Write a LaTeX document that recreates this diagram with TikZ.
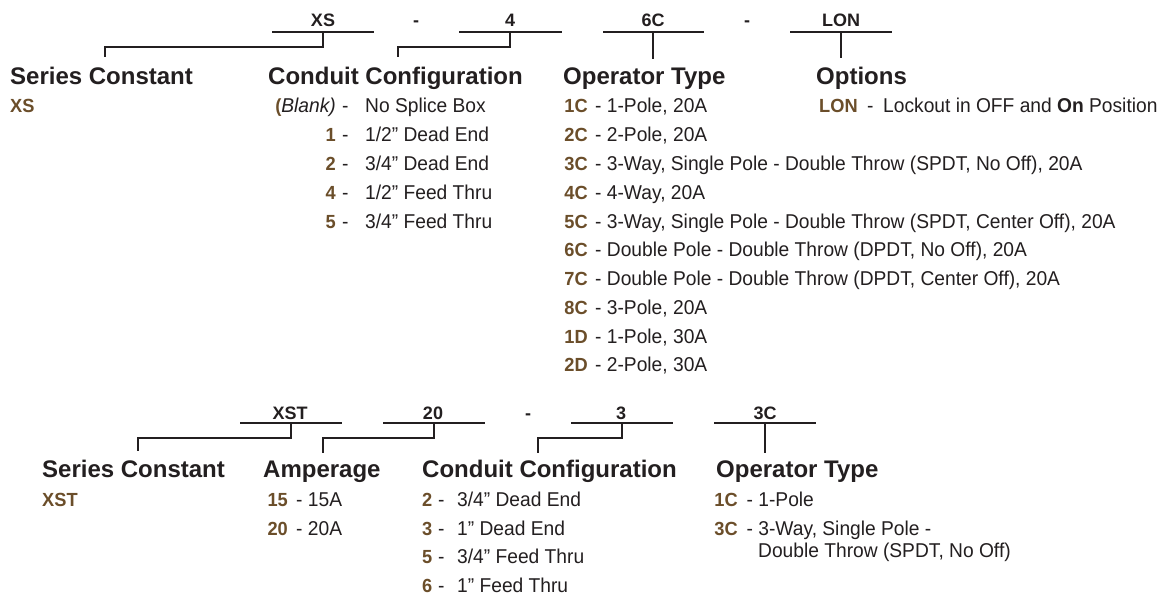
\documentclass[tikz,border=0pt]{standalone}
\usepackage{fontspec}
\setmainfont{Liberation Sans}
\newfontfamily\bodyf[FakeStretch=0.96]{Liberation Sans}
\definecolor{ink}{HTML}{231F20}
\definecolor{brn}{HTML}{6B4E2A}
\newcommand\cd[1]{{\fontsize{19}{22}\selectfont\bfseries\color{brn}#1}}
\tikzset{
  head/.style={anchor=base west, inner sep=0pt, font=\fontsize{24}{28}\selectfont\bfseries, text=ink},
  lab/.style={anchor=base, inner sep=0pt, font=\fontsize{18}{20}\selectfont\bfseries, text=ink},
  body/.style={anchor=base west, inner sep=0pt, font=\bodyf\fontsize{20}{23}\selectfont, text=ink},
  bodyr/.style={body, anchor=base east},
  conn/.style={draw=ink, line width=2.2pt, line join=miter},
}
\begin{document}
\begin{tikzpicture}[x=1pt,y=-1pt]
\fill[white] (0,0) rectangle (1164,596);
\useasboundingbox (0,0) rectangle (1164,596);

% ---------------- top code line ----------------
\node[lab] (lXS) at (323,27) {XS};
\node[lab] (lD1) at (416,27) {-};
\node[lab] (l4) at (510,27) {4};
\node[lab] (l6C) at (653,27) {6C};
\node[lab] (lD2) at (747,27) {-};
\node[lab] (lLON) at (841,27) {LON};

\coordinate (aXS) at (272,32); \coordinate (bXS) at (374,32); \coordinate (uXS) at (323,32);
\coordinate (a4) at (459,32);  \coordinate (b4) at (562,32);   \coordinate (u4) at (510,32);
\coordinate (a6C) at (603,32); \coordinate (b6C) at (704,32);  \coordinate (u6C) at (653,32);
\coordinate (aLON) at (790,32); \coordinate (bLON) at (892,32); \coordinate (uLON) at (841,32);
\draw[conn] (aXS) -- (bXS);
\draw[conn] (a4) -- (b4);
\draw[conn] (a6C) -- (b6C);
\draw[conn] (aLON) -- (bLON);

% headings
\node[head] (hSC) at (10,85) {Series Constant};
\node[head] (hCC) at (268,85) {Conduit Configuration};
\node[head] (hOT) at (563,85) {Operator Type};
\node[head] (hOP) at (816,85) {Options};

\coordinate (dSC) at (105,57);
\coordinate (dCC) at (398,57);
\coordinate (dOT) at (653,59);
\coordinate (dOP) at (841,58);
\draw[conn] (uXS) -- ++(0,15) -| (dSC);
\draw[conn] (u4) -- ++(0,15) -| (dCC);
\draw[conn] (u6C) -- (dOT);
\draw[conn] (uLON) -- (dOP);

% series constant
\node[body] (sXS) at (10,113) {\cd{XS}};

% conduit configuration
\node[bodyr] (c0) at (336,113) {\textcolor{brn}{\fontsize{19}{22}\selectfont\bfseries(}\textit{Blank)}};
\node[bodyr] (c1) at (336,141.75) {\cd{1}};
\node[bodyr] (c2) at (336,170.5) {\cd{2}};
\node[bodyr] (c4) at (336,199.25) {\cd{4}};
\node[bodyr] (c5) at (336,228) {\cd{5}};
\node[body] (cd0) at (342,113) {-};
\node[body] (cd1) at (342,141.75) {-};
\node[body] (cd2) at (342,170.5) {-};
\node[body] (cd4) at (342,199.25) {-};
\node[body] (cd5) at (342,228) {-};
\node[body] (ct0) at (365,113) {No Splice Box};
\node[body] (ct1) at (365,141.75) {1/2” Dead End};
\node[body] (ct2) at (365,170.5) {3/4” Dead End};
\node[body] (ct4) at (365,199.25) {1/2” Feed Thru};
\node[body] (ct5) at (365,228) {3/4” Feed Thru};

% operator type
\node[bodyr] (oc1) at (588,113) {\cd{1C}};
\node[bodyr] (oc2) at (588,141.75) {\cd{2C}};
\node[bodyr] (oc3) at (588,170.5) {\cd{3C}};
\node[bodyr] (oc4) at (588,199.25) {\cd{4C}};
\node[bodyr] (oc5) at (588,228) {\cd{5C}};
\node[bodyr] (oc6) at (588,256.75) {\cd{6C}};
\node[bodyr] (oc7) at (588,285.5) {\cd{7C}};
\node[bodyr] (oc8) at (588,314.25) {\cd{8C}};
\node[bodyr] (oc9) at (588,343) {\cd{1D}};
\node[bodyr] (oc10) at (588,371.75) {\cd{2D}};
\node[body] (o1) at (595,113) {- 1-Pole, 20A};
\node[body] (o2) at (595,141.75) {- 2-Pole, 20A};
\node[body] (o3) at (595,170.5) {- 3-Way, Single Pole - Double Throw (SPDT, No Off), 20A};
\node[body] (o4) at (595,199.25) {- 4-Way, 20A};
\node[body] (o5) at (595,228) {- 3-Way, Single Pole - Double Throw (SPDT, Center Off), 20A};
\node[body] (o6) at (595,256.75) {- Double Pole - Double Throw (DPDT, No Off), 20A};
\node[body] (o7) at (595,285.5) {- Double Pole - Double Throw (DPDT, Center Off), 20A};
\node[body] (o8) at (595,314.25) {- 3-Pole, 20A};
\node[body] (o9) at (595,343) {- 1-Pole, 30A};
\node[body] (o10) at (595,371.75) {- 2-Pole, 30A};

% options
\node[body] (pc) at (819,113) {\cd{LON}};
\node[body] (pd) at (867,113) {-};
\node[body] (pt) at (883,113) {Lockout in OFF and {\bfseries On} Position};

% ---------------- bottom code line ----------------
\node[lab] (lXST) at (290,419) {XST};
\node[lab] (l20) at (433,419) {20};
\node[lab] (lD3) at (528,419) {-};
\node[lab] (l3) at (621,419) {3};
\node[lab] (l3C) at (765,419) {3C};

\coordinate (aXST) at (240,423); \coordinate (bXST) at (342,423); \coordinate (uXST) at (291,423);
\coordinate (a20) at (383,423);  \coordinate (b20) at (485,423);  \coordinate (u20) at (434,423);
\coordinate (a3) at (571,423);   \coordinate (b3) at (673,423);   \coordinate (u3) at (622,423);
\coordinate (a3C) at (714,423);  \coordinate (b3C) at (816,423);  \coordinate (u3C) at (765,423);
\draw[conn] (aXST) -- (bXST);
\draw[conn] (a20) -- (b20);
\draw[conn] (a3) -- (b3);
\draw[conn] (a3C) -- (b3C);

\node[head] (hSC2) at (42,477) {Series Constant};
\node[head] (hAM) at (263,477) {Amperage};
\node[head] (hCC2) at (422,477) {Conduit Configuration};
\node[head] (hOT2) at (716,477) {Operator Type};

\coordinate (dSC2) at (138,451);
\coordinate (dAM) at (323,453);
\coordinate (dCC2) at (538,453);
\coordinate (dOT2) at (765,453);
\draw[conn] (uXST) -- ++(0,15) -| (dSC2);
\draw[conn] (u20) -- ++(0,15) -| (dAM);
\draw[conn] (u3) -- ++(0,15) -| (dCC2);
\draw[conn] (u3C) -- (dOT2);

\node[body] (sXST) at (42,506.5) {\cd{XST}};

\node[bodyr] (ac15) at (288,506.5) {\cd{15}};
\node[bodyr] (ac20) at (288,535) {\cd{20}};
\node[body] (a15) at (296,506.5) {- 15A};
\node[body] (a20r) at (296,535) {- 20A};

\node[body] (k2) at (422,506.5) {\cd{2}};
\node[body] (k3) at (422,535) {\cd{3}};
\node[body] (k5) at (422,563.5) {\cd{5}};
\node[body] (k6) at (422,592) {\cd{6}};
\node[body] (kd2) at (438,506.5) {-};
\node[body] (kd3) at (438,535) {-};
\node[body] (kd5) at (438,563.5) {-};
\node[body] (kd6) at (438,592) {-};
\node[body] (kt2) at (457,506.5) {3/4” Dead End};
\node[body] (kt3) at (457,535) {1” Dead End};
\node[body] (kt5) at (457,563.5) {3/4” Feed Thru};
\node[body] (kt6) at (457,592) {1” Feed Thru};

\node[bodyr] (qc1) at (738,506.5) {\cd{1C}};
\node[bodyr] (qc3) at (738,535) {\cd{3C}};
\node[body] (q1) at (746.5,506.5) {- 1-Pole};
\node[body] (q3) at (746.5,535) {- 3-Way, Single Pole -};
\node[body] (q3b) at (758,557.5) {Double Throw (SPDT, No Off)};
\end{tikzpicture}
\end{document}
